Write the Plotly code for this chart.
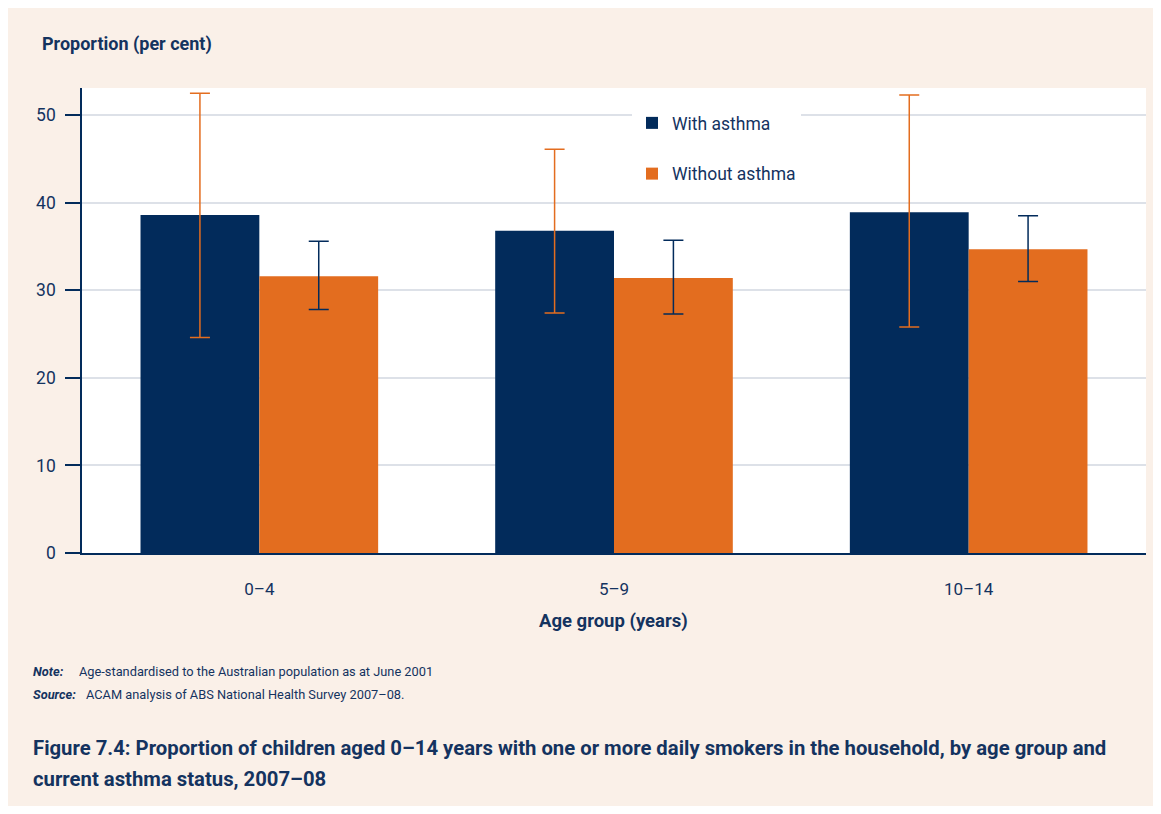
import plotly.graph_objects as go

# ---- data ----
categories = ["0–4", "5–9", "10–14"]
with_asthma = [38.6, 36.8, 38.9]
with_asthma_upper = [52.5, 46.1, 52.3]
with_asthma_lower = [24.6, 27.4, 25.8]
without_asthma = [31.6, 31.4, 34.7]
without_asthma_upper = [35.6, 35.7, 38.5]
without_asthma_lower = [27.8, 27.3, 31.0]
y_ticks = [0, 10, 20, 30, 40, 50]

NAVY = "#022B5B"
ORANGE = "#E36D1F"
TEXT = "#14335F"
BEIGE = "#FAF0E8"
GRID = "#DDE1E8"
FONT = "Roboto, Liberation Sans, sans-serif"

# figure is placed at (8, 8) in the page; coordinates below are figure pixels
W, H = 1145, 798
L, R, T, B = 74, 1138, 80, 545
pw, ph = R - L, B - T


def px(x):
    return (x - L) / pw


def py(y):
    return (B - y) / ph


fig = go.Figure()
fig.add_trace(go.Bar(
    name="With asthma", x=categories, y=with_asthma,
    marker=dict(color=NAVY, line=dict(width=0)),
    error_y=dict(type="data", symmetric=False,
                 array=[u - v for u, v in zip(with_asthma_upper, with_asthma)],
                 arrayminus=[v - l for v, l in zip(with_asthma, with_asthma_lower)],
                 color=ORANGE, thickness=1.5, width=10),
    legendgroup="a",
))
fig.add_trace(go.Bar(
    name="Without asthma", x=categories, y=without_asthma,
    marker=dict(color=ORANGE, line=dict(width=0)),
    error_y=dict(type="data", symmetric=False,
                 array=[u - v for u, v in zip(without_asthma_upper, without_asthma)],
                 arrayminus=[v - l for v, l in zip(without_asthma, without_asthma_lower)],
                 color=NAVY, thickness=1.5, width=10),
    legendgroup="b",
))

annotations = [
    dict(text="<b>Proportion (per cent)</b>", xref="paper", yref="paper",
         x=px(32), y=py(36), xanchor="left", yanchor="middle", showarrow=False,
         font=dict(size=18, color=TEXT, family=FONT)),
    dict(text="<b>Age group (years)</b>", xref="paper", yref="paper",
         x=px(605), y=py(613), xanchor="center", yanchor="middle", showarrow=False,
         font=dict(size=18.5, color=TEXT, family=FONT)),
    dict(text="<b><i>Note:</i></b>", xref="paper", yref="paper",
         x=px(23), y=py(663), xanchor="left", yanchor="middle", showarrow=False,
         font=dict(size=12.8, color=TEXT, family=FONT)),
    dict(text="Age-standardised to the Australian population as at June 2001", xref="paper", yref="paper",
         x=px(69), y=py(663), xanchor="left", yanchor="middle", showarrow=False,
         font=dict(size=12.8, color=TEXT, family=FONT)),
    dict(text="<b><i>Source:</i></b>", xref="paper", yref="paper",
         x=px(23), y=py(686), xanchor="left", yanchor="middle", showarrow=False,
         font=dict(size=12.8, color=TEXT, family=FONT)),
    dict(text="ACAM analysis of ABS National Health Survey 2007–08.", xref="paper", yref="paper",
         x=px(76), y=py(686), xanchor="left", yanchor="middle", showarrow=False,
         font=dict(size=12.8, color=TEXT, family=FONT)),
    dict(text="<b>Figure 7.4: Proportion of children aged 0–14 years with one or more daily smokers in the household, by age group and</b>",
         xref="paper", yref="paper",
         x=px(23), y=py(740), xanchor="left", yanchor="middle", showarrow=False,
         font=dict(size=20.3, color=TEXT, family=FONT)),
    dict(text="<b>current asthma status, 2007–08</b>",
         xref="paper", yref="paper",
         x=px(23), y=py(771), xanchor="left", yanchor="middle", showarrow=False,
         font=dict(size=20.3, color=TEXT, family=FONT)),
]

fig.update_layout(
    width=W, height=H,
    margin=dict(l=L, r=W - R, t=T, b=H - B, pad=0),
    paper_bgcolor=BEIGE, plot_bgcolor="white",
    barmode="group", bargap=0.33, bargroupgap=0,
    font=dict(family=FONT, color=TEXT, size=17),
    showlegend=True,
    legend=dict(x=px(624), y=py(97), xanchor="left", yanchor="top",
                bgcolor="white", borderwidth=0, tracegroupgap=25,
                traceorder="grouped",
                font=dict(size=17.5, color=TEXT, family=FONT),
                itemwidth=30),
    xaxis=dict(range=[-0.5, 2.5], showgrid=False, showline=True, linecolor=NAVY,
               linewidth=2, ticks="", tickfont=dict(size=17, color=TEXT),
               ticklabelstandoff=20, zeroline=False),
    yaxis=dict(range=[0, 53.1], tickvals=y_ticks, showgrid=True, gridcolor=GRID,
               gridwidth=2, showline=True, linecolor=NAVY, linewidth=1.5,
               ticks="outside", ticklen=15, tickcolor=NAVY, tickwidth=1.5,
               tickfont=dict(size=17.5, color=TEXT), ticklabelstandoff=6,
               zeroline=False),
    annotations=annotations,
)

fig.write_html("out.html")
